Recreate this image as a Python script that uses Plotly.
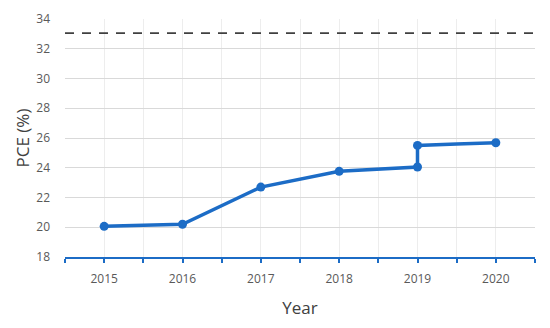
import plotly.graph_objects as go

years = [2015, 2016, 2017, 2018, 2019, 2019, 2019.5, 2020]
pce = [20.06, 20.2, 22.7, 23.76, 24.05, 25.5, 25.6, 25.68]
marker_sizes = [9, 9, 9, 9, 9, 9, 0, 9]
limit = 33.05

tick_vals = [2014.5 + 0.5 * i for i in range(13)]
tick_text = [str(int(v)) if v == int(v) else "" for v in tick_vals]

blue = "#1c6cc6"

fig = go.Figure()
fig.add_trace(go.Scatter(
    x=[2014.5, 2020.5], y=[limit, limit], mode="lines",
    line=dict(color="#404040", width=1.8, dash="9px,8px"),
    hoverinfo="skip", showlegend=False
))
fig.add_trace(go.Scatter(
    x=years, y=pce, mode="lines+markers",
    line=dict(color=blue, width=3.5),
    marker=dict(color=blue, size=marker_sizes, opacity=1, line=dict(width=0)),
    showlegend=False
))

fig.update_layout(
    width=550, height=328,
    margin=dict(l=65, r=15, t=19, b=71),
    plot_bgcolor="white", paper_bgcolor="white",
    font=dict(family="Open Sans", color="#595959", size=12),
    xaxis=dict(
        range=[2014.5, 2020.5], tickvals=tick_vals, ticktext=tick_text,
        showgrid=True, gridcolor="#ededed", gridwidth=1,
        showline=True, linecolor=blue, linewidth=1.5,
        ticks="outside", tickcolor=blue, ticklen=4, tickwidth=1.5,
        ticklabelstandoff=6,
        title=dict(text="Year", font=dict(size=17, color="#404040"), standoff=16),
        zeroline=False, automargin=False
    ),
    yaxis=dict(
        range=[18, 34], dtick=2, showgrid=True, gridcolor="#d9d9d9", gridwidth=1,
        ticklabelstandoff=14,
        title=dict(text="PCE (%)", font=dict(size=17, color="#404040"), standoff=2),
        zeroline=False, automargin=False
    ),
)
fig.write_html("out.html", config={"displayModeBar": False},
               post_script="document.body.style.margin='0';")
